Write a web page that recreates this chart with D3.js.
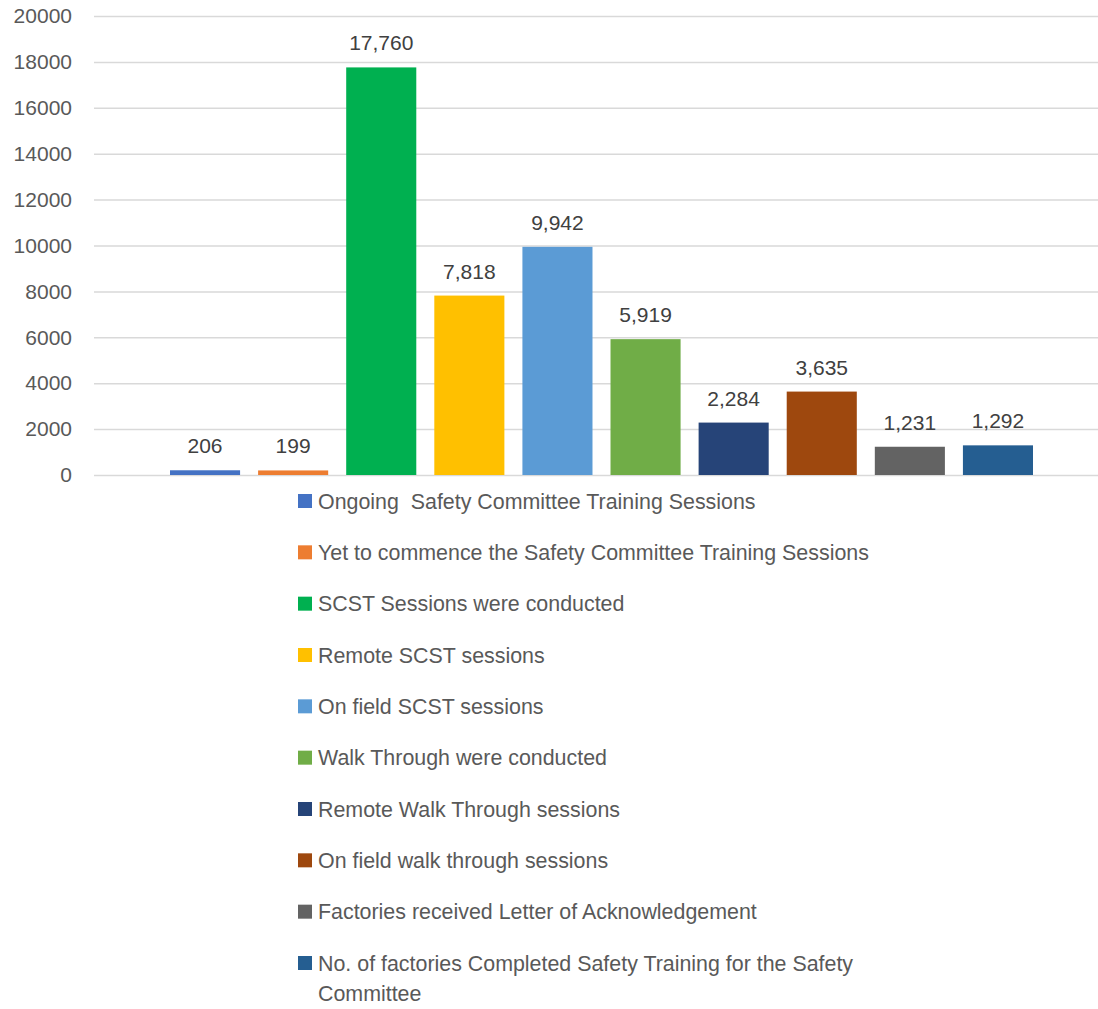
<!DOCTYPE html>
<html>
<head>
<meta charset="utf-8">
<script src="https://cdn.jsdelivr.net/npm/d3@7"></script>
<style>
    body { margin: 0; background: #fff; }
    svg { display: block; font-family: "Liberation Sans", Arial, sans-serif; }
</style>
</head>
<body>
<svg id="chart" width="1098" height="1009"></svg>
<script>
const categories = [
    "Ongoing  Safety Committee Training Sessions",
    "Yet to commence the Safety Committee Training Sessions",
    "SCST Sessions were conducted",
    "Remote SCST sessions",
    "On field SCST sessions",
    "Walk Through were conducted",
    "Remote Walk Through sessions",
    "On field walk through sessions",
    "Factories received Letter of Acknowledgement",
    "No. of factories Completed Safety Training for the Safety Committee"
];
const values = [206, 199, 17760, 7818, 9942, 5919, 2284, 3635, 1231, 1292];
const colors = ["#4472c4", "#ed7d31", "#00b050", "#ffc000", "#5b9bd5",
    "#70ad47", "#264478", "#9e480e", "#636363", "#255e91"];
const yTicks = [0, 2000, 4000, 6000, 8000, 10000, 12000, 14000, 16000, 18000, 20000];

const svg = d3.select("#chart");

// scales
const x = d3.scaleBand().domain(categories).range([170, 1033]).paddingInner(18 / 88).paddingOuter(0);
const y = d3.scaleLinear().domain([0, 20000]).range([475, 16]);
const fmt = d3.format(",");

// gridlines + y labels
const yAxis = d3.axisLeft(y).tickValues(yTicks).tickSize(-(1098 - 94)).tickPadding(22).tickFormat((d) => d);
const gAxis = svg.append("g").attr("transform", "translate(94,0)").call(yAxis);
gAxis.select(".domain").remove();
gAxis.selectAll(".tick line").attr("stroke", "#d9d9d9").attr("stroke-width", 1.5);
gAxis.selectAll(".tick text")
    .attr("fill", "#595959")
    .style("font-size", "21px")
    .style("font-family", "'Liberation Sans', Arial, sans-serif");

// bars
svg.selectAll("rect.bar")
    .data(values)
    .enter()
    .append("rect")
    .attr("class", "bar")
    .attr("x", (d, i) => x(categories[i]))
    .attr("y", (d) => y(d))
    .attr("width", x.bandwidth())
    .attr("height", (d) => y(0) - y(d))
    .attr("fill", (d, i) => colors[i]);

// data labels
svg.selectAll("text.label")
    .data(values)
    .enter()
    .append("text")
    .attr("class", "label")
    .attr("x", (d, i) => x(categories[i]) + x.bandwidth() / 2)
    .attr("y", (d) => y(d) - 17)
    .attr("text-anchor", "middle")
    .attr("fill", "#404040")
    .style("font-size", "21px")
    .text((d) => fmt(d));

// legend
const legend = svg.append("g").attr("transform", "translate(298,0)");
const rowY = d3.scaleLinear().domain([0, 9]).range([501, 963]);
categories.forEach((c, i) => {
    const row = legend.append("g").attr("transform", `translate(0,${rowY(i)})`);
    row.append("rect").attr("x", 0).attr("y", -7).attr("width", 14).attr("height", 14).attr("fill", colors[i]);
    const t = row.append("text")
        .attr("x", 20)
        .attr("y", 7.5)
        .attr("fill", "#595959")
        .style("font-size", "21.4px")
        .style("white-space", "pre");
    if (i === 9) {
        t.append("tspan").text("No. of factories Completed Safety Training for the Safety");
        t.append("tspan").attr("x", 20).attr("dy", 30).text("Committee");
    } else {
        t.text(c);
    }
});
</script>
</body>
</html>
